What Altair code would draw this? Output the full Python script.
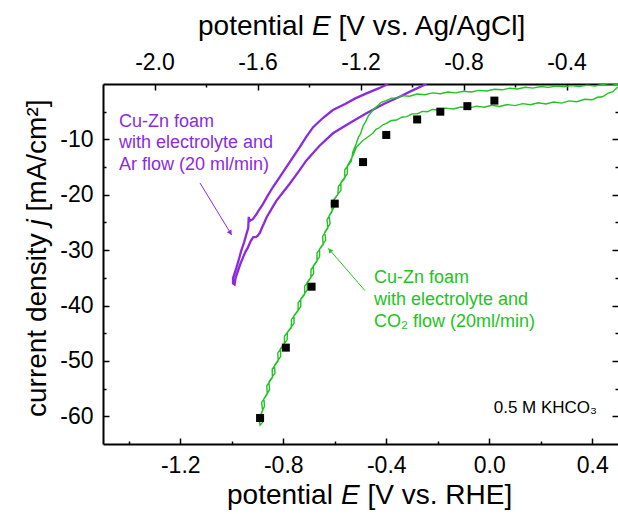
import altair as alt
import pandas as pd

# ---------------- data ----------------
# measured points (black squares), potential vs RHE / current density
SQUARE_E = [-0.89, -0.79, -0.69, -0.60, -0.49, -0.40, -0.28, -0.19, -0.085, 0.02]
SQUARE_J = [-60.3, -47.6, -36.6, -21.6, -14.1, -9.2, -6.4, -5.0, -4.0, -3.0]

# Ar-flow CV loop (purple): down along the upper branch, back along the lower one
PURPLE_E = [-0.393, -0.43, -0.477, -0.52, -0.56, -0.607, -0.645, -0.684, -0.71, -0.736,
            -0.762, -0.788, -0.815, -0.840, -0.862, -0.879, -0.895, -0.904, -0.918, -0.930,
            -0.934, -0.936, -0.943, -0.952, -0.963, -0.972, -0.982, -0.995, -0.995, -0.989,
            -0.985, -0.976, -0.966, -0.956, -0.947, -0.937, -0.927, -0.917, -0.905, -0.899,
            -0.890, -0.884, -0.875, -0.865, -0.846, -0.827, -0.800, -0.775, -0.742, -0.710,
            -0.66, -0.607, -0.54, -0.477, -0.41, -0.348, -0.30, -0.244]
PURPLE_J = [0.0, -0.8, -1.7, -2.6, -3.6, -4.7, -6.1, -7.8, -9.5, -11.4,
            -13.2, -15.0, -16.9, -18.6, -20.3, -21.7, -22.8, -23.5, -24.4, -24.7,
            -24.0, -26.0, -27.1, -28.6, -30.1, -31.6, -33.2, -35.0, -36.0, -36.2,
            -35.0, -33.8, -32.4, -31.3, -30.3, -29.5, -28.4, -27.7, -27.6, -27.4,
            -26.8, -26.1, -25.2, -24.1, -22.6, -21.1, -19.5, -18.0, -15.9, -13.8,
            -11.2, -8.9, -7.0, -5.3, -3.6, -2.3, -1.2, 0.0]

# CO2-flow CV loop (green): upper branch from the right edge to the tip, lower branch back
GREEN_E = [0.50, 0.47, 0.44, 0.41, 0.38, 0.35, 0.32, 0.29, 0.26, 0.23,
           0.20, 0.17, 0.14, 0.11, 0.08, 0.05, 0.02, -0.01, -0.04, -0.07,
           -0.10, -0.13, -0.16, -0.19, -0.22, -0.25, -0.28, -0.31, -0.34, -0.36,
           -0.38, -0.40, -0.42, -0.435, -0.45, -0.46, -0.47, -0.48, -0.49, -0.50,
           -0.508, -0.516, -0.53,
           -0.536, -0.561, -0.561, -0.586, -0.588, -0.613, -0.610, -0.630, -0.627, -0.647,
           -0.645, -0.669, -0.669, -0.692, -0.693, -0.717, -0.717, -0.742, -0.743, -0.768,
           -0.769, -0.795, -0.796, -0.821, -0.820, -0.843, -0.842, -0.864, -0.862, -0.884,
           -0.880, -0.894, -0.890,
           -0.879, -0.889, -0.873, -0.875, -0.853, -0.856, -0.832, -0.834, -0.810, -0.811,
           -0.785, -0.784, -0.758, -0.758, -0.732, -0.732, -0.707, -0.707, -0.682, -0.683,
           -0.659, -0.659, -0.635, -0.639, -0.618, -0.622, -0.602, -0.603, -0.576, -0.576,
           -0.551, -0.551,
           -0.530, -0.516, -0.505, -0.491, -0.478, -0.464, -0.452, -0.44, -0.427, -0.414,
           -0.40, -0.38, -0.36, -0.34, -0.32, -0.30, -0.28, -0.26, -0.24, -0.22,
           -0.20, -0.17, -0.14, -0.11, -0.08, -0.05, -0.02, 0.01, 0.04, 0.07,
           0.10, 0.13, 0.16, 0.19, 0.22, 0.25, 0.28, 0.31, 0.34, 0.37,
           0.40, 0.42, 0.44, 0.46, 0.48, 0.50]
GREEN_J = [-0.05, -0.25, -0.10, -0.35, -0.20, -0.45, -0.30, -0.50, -0.35, -0.60,
           -0.45, -0.75, -0.60, -0.90, -0.75, -1.05, -0.95, -1.25, -1.15, -1.45,
           -1.30, -1.60, -1.45, -1.75, -1.60, -1.95, -1.80, -2.20, -2.10, -2.50,
           -2.55, -3.00, -3.30, -4.00, -4.60, -5.20, -5.80, -6.80, -7.60, -9.00,
           -9.60, -10.7, -12.3,
           -14.0, -15.5, -17.0, -18.5, -20.0, -21.5, -23.0, -24.5, -26.0, -27.5,
           -29.0, -30.5, -32.0, -33.5, -35.0, -36.5, -38.0, -39.5, -41.0, -42.5,
           -44.0, -45.5, -47.0, -48.5, -50.0, -51.5, -53.0, -54.5, -56.0, -57.5,
           -59.0, -60.5, -61.6,
           -61.0, -59.8, -58.2, -56.8, -55.2, -53.8, -52.2, -50.8, -49.2, -47.8,
           -46.2, -44.8, -43.2, -41.8, -40.2, -38.8, -37.2, -35.8, -34.2, -32.8,
           -31.2, -29.8, -28.2, -26.8, -25.2, -23.8, -22.2, -20.8, -19.2, -17.8,
           -16.2, -14.8,
           -13.0, -11.4, -10.9, -10.2, -9.8, -9.3, -8.9, -8.2, -7.9, -7.4,
           -7.1, -6.6, -6.5, -6.0, -5.9, -5.4, -5.4, -4.95, -5.0, -4.6,
           -4.7, -4.35, -4.5, -4.15, -4.35, -4.0, -4.2, -3.85, -4.05, -3.7,
           -3.9, -3.55, -3.75, -3.4, -3.6, -3.25, -3.45, -3.05, -3.2, -2.75,
           -2.85, -2.4, -2.3, -1.7, -1.4, -0.5]

# axes
RHE_DOMAIN = [-1.5, 0.5]
AGCL_DOMAIN = [-2.2, -0.2]
J_DOMAIN = [-65, 0]
RHE_TICKS = [-1.4, -1.2, -1.0, -0.8, -0.6, -0.4, -0.2, 0.0, 0.2, 0.4]
AGCL_TICKS = [-2.0, -1.8, -1.6, -1.4, -1.2, -1.0, -0.8, -0.6, -0.4]
J_TICKS = [-60, -55, -50, -45, -40, -35, -30, -25, -20, -15, -10, -5]
RHE_TO_AGCL = -0.7

PURPLE = "#8A2BE2"
GREEN = "#22C322"
FONT = "Liberation Sans"

# ---------------- tables ----------------
sq_df = pd.DataFrame({"E": SQUARE_E, "j": SQUARE_J})
pu_df = pd.DataFrame({"E": PURPLE_E, "j": PURPLE_J, "i": range(len(PURPLE_E))})
gr_df = pd.DataFrame({"E": GREEN_E, "j": GREEN_J, "i": range(len(GREEN_E))})

MAJ_X = "abs(round(datum.value*10)) % 4 == 0"
MAJ_Y = "abs(round(datum.value)) % 10 == 0"

x_axis = alt.Axis(
    orient="bottom", values=RHE_TICKS, title=None, grid=False,
    labelExpr=f"{MAJ_X} ? (datum.value < -0.001 ? '-' : '') + format(abs(datum.value), '.1f') : ''",
    tickSize={"expr": f"{MAJ_X} ? -6 : -3"}, labelPadding=16,
    labelFlush=False, labelOverlap=False,
)
y_axis = alt.Axis(
    orient="left", values=J_TICKS, title=None, grid=False,
    labelExpr=f"{MAJ_Y} ? '-' + format(abs(datum.value), 'd') : ''",
    tickSize={"expr": f"{MAJ_Y} ? -6 : -3"}, labelPadding=16,
    labelFlush=False, labelOverlap=False,
)
top_axis = alt.Axis(
    orient="top", values=AGCL_TICKS, title=None, grid=False,
    labelExpr=f"{MAJ_X} ? (datum.value < -0.001 ? '-' : '') + format(abs(datum.value), '.1f') : ''",
    tickSize={"expr": f"{MAJ_X} ? -6 : -3"}, labelPadding=16,
    labelFlush=False, labelOverlap=False,
)
right_axis = alt.Axis(
    orient="right", values=J_TICKS, title=None, grid=False, labels=False, domain=False,
    tickSize={"expr": f"{MAJ_Y} ? -6 : -3"},
)

xs = alt.Scale(domain=RHE_DOMAIN, nice=False, zero=False)
ys = alt.Scale(domain=J_DOMAIN, nice=False, zero=False)
X = alt.X("E:Q", scale=xs, axis=x_axis)
Y = alt.Y("j:Q", scale=ys, axis=y_axis)

purple = alt.Chart(pu_df).mark_line(color=PURPLE, strokeWidth=2.3, clip=True).encode(
    x=X, y=Y, order="i:Q")
green = alt.Chart(gr_df).mark_line(color=GREEN, strokeWidth=1.4, clip=True).encode(
    x=X, y=Y, order="i:Q")
squares = alt.Chart(sq_df).mark_square(color="black", size=64, opacity=1).encode(x=X, y=Y)


def txt(text, x, y, size, color="black", italic=False, align="left", angle=None,
        line_height=None):
    kw = dict(align=align, baseline="alphabetic", font=FONT, fontSize=size,
              fontStyle="italic" if italic else "normal", color=color, lineBreak="\n")
    if angle is not None:
        kw["angle"] = angle
    if line_height is not None:
        kw["lineHeight"] = line_height
    return alt.Chart(pd.DataFrame({"t": [text]})).mark_text(**kw).encode(
        x=alt.value(x), y=alt.value(y), text="t:N")


def arrow(x1, y1, x2, y2, hx, hy, ang, color):
    line = alt.Chart(pd.DataFrame({"k": [0]})).mark_rule(color=color, strokeWidth=1).encode(
        x=alt.value(x1), y=alt.value(y1), x2=alt.value(x2), y2=alt.value(y2))
    head = alt.Chart(pd.DataFrame({"k": [0]})).mark_point(
        shape="triangle-up", filled=True, color=color, size=30, angle=ang, opacity=1).encode(
        x=alt.value(hx), y=alt.value(hy))
    return [line, head]


texts = [
    # axis titles (plot-area relative pixels)
    txt("potential", 124, 420, 28),
    txt("E", 238, 420, 28, italic=True),
    txt("[V vs. RHE]", 264.5, 420, 28),
    txt("potential", 95, -49, 28),
    txt("E", 209, -49, 28, italic=True),
    txt("[V vs. Ag/AgCl]", 235.5, -49, 28),
    txt("current density", -57, 333, 28, angle=270),
    txt("j", -57, 141.5, 28, italic=True, angle=270),
    txt("[mA/cm²]", -57, 127.5, 28, angle=270),
    # annotations
    txt("Cu-Zn foam\nwith electrolyte and\nAr flow (20 ml/min)", 16, 42.7, 18, PURPLE,
        line_height=21.7),
    txt("Cu-Zn foam\nwith electrolyte and\nCO₂ flow (20ml/min)", 271, 199.3, 18, GREEN,
        line_height=22),
    txt("0.5 M KHCO₃", 494, 329, 17, align="right"),
]
arrows = arrow(97, 99, 128.7, 151, 127.4, 148.9, 148.6, PURPLE) + \
    arrow(262, 206.7, 225.3, 164.3, 226.9, 166.2, 319, GREEN)

inner = alt.layer(purple, green, squares, *arrows, *texts)

top = alt.Chart(sq_df).transform_calculate(Eag=f"datum.E + ({RHE_TO_AGCL})").mark_point(
    opacity=0).encode(
    x=alt.X("Eag:Q", scale=alt.Scale(domain=AGCL_DOMAIN, nice=False, zero=False), axis=top_axis),
    y=alt.Y("j:Q", scale=ys, axis=right_axis),
)

chart = alt.layer(inner, top).resolve_scale(x="independent", y="independent").properties(
    width=515, height=360,
    padding={"left": 103, "top": 84, "right": 0, "bottom": 70},
    autosize=alt.AutoSizeParams(type="none"),
).configure_view(stroke=None).configure_axis(
    labelFont=FONT, labelFontSize=23, labelColor="black",
    domainColor="black", domainWidth=2, tickColor="black", tickWidth=1.5,
)

chart.save("out.html", embed_options={"renderer": "svg", "actions": False})
